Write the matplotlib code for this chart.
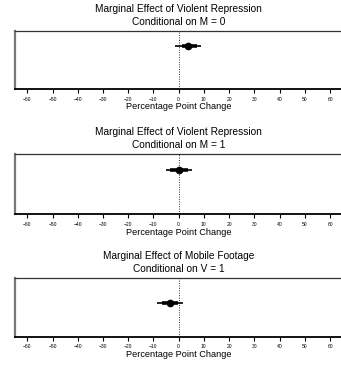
import matplotlib.pyplot as plt

plt.rcParams['font.family'] = ['Liberation Sans', 'DejaVu Sans']

titles = ['Marginal Effect of Violent Repression\nConditional on M = 0',
          'Marginal Effect of Violent Repression\nConditional on M = 1',
          'Marginal Effect of Mobile Footage\nConditional on V = 1']
estimates = [3.8, 0.0, -3.4]
ci95_low = [-1.5, -5.0, -8.5]
ci95_high = [8.8, 5.1, 1.6]
ci90_low = [1.2, -3.6, -6.6]
ci90_high = [7.2, 3.6, -0.3]
y_pos = [0.74, 0.73, 0.58]
ticks = [-60, -50, -40, -30, -20, -10, 0, 10, 20, 30, 40, 50, 60]

fig = plt.figure(figsize=(3.41, 3.66), dpi=100)
boxes = [[0.043, 0.757, 0.962, 0.158],
         [0.043, 0.4145, 0.962, 0.164],
         [0.043, 0.080, 0.962, 0.161]]

for i in range(3):
    ax = fig.add_axes(boxes[i])
    ax.set_xlim(-65, 65)
    ax.set_ylim(0, 1)
    ax.axvline(0, color='#333333', lw=0.7, ls=(0, (1, 1.5)))
    ax.plot([ci95_low[i], ci95_high[i]], [y_pos[i]] * 2, color='black', lw=1.2, solid_capstyle='butt')
    ax.plot([ci90_low[i], ci90_high[i]], [y_pos[i]] * 2, color='black', lw=2.6, solid_capstyle='butt')
    ax.plot(estimates[i], y_pos[i], 'o', color='black', ms=4.5)
    ax.set_xticks(ticks)
    ax.set_xticklabels([str(t).replace('-', '\u2212') for t in ticks], fontsize=3.6)
    ax.set_yticks([])
    ax.tick_params(axis='x', length=3, width=0.8, pad=2.5)
    ax.spines['left'].set_color('#777777')
    ax.spines['left'].set_linewidth(1.6)
    ax.spines['top'].set_color('#333333')
    ax.spines['top'].set_linewidth(0.9)
    ax.spines['bottom'].set_linewidth(1.3)
    ax.spines['right'].set_visible(False)
    ax.set_xlabel('Percentage Point Change', fontsize=6.6, labelpad=0.5)
    ax.set_title(titles[i], fontsize=7.3, pad=4.5, linespacing=1.35)

fig.savefig('out.png', dpi=100)
